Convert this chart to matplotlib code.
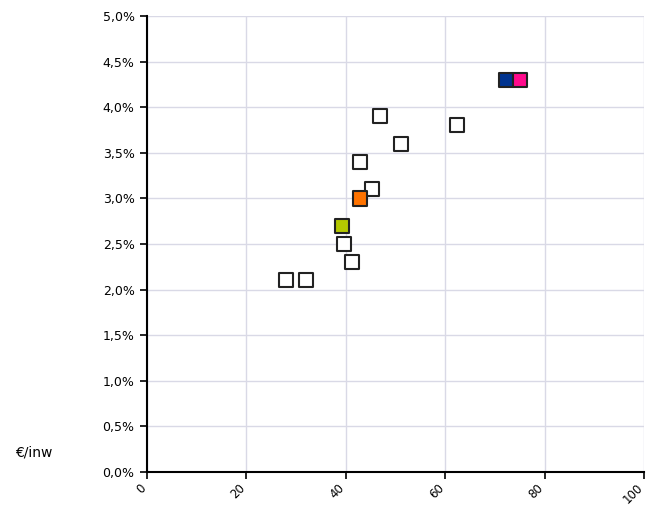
import numpy as np
import matplotlib.pyplot as plt
import matplotlib.transforms as mtransforms
from matplotlib.ticker import FuncFormatter

# other municipalities (white squares)
x_other = [46.8, 62.4, 51.2, 42.8, 45.2, 39.6, 41.2, 28.0, 32.0]
y_other = [3.9, 3.8, 3.6, 3.4, 3.1, 2.5, 2.3, 2.1, 2.1]

# highlighted points
x_hl = [42.8, 39.2, 72.2, 75.0]
y_hl = [3.0, 2.7, 4.3, 4.3]
c_hl = ['#ff7300', '#b4c800', '#00338f', '#ff0a8c']

x_ticks = [0, 20, 40, 60, 80, 100]
x_labels = ['0', '20', '40', '60', '80', '100']
y_ticks = np.arange(0, 5.01, 0.5)

fig = plt.figure(figsize=(6.47, 5.15), dpi=100)
ax = fig.add_axes([147/647, 43/515, 497/647, 456/515])

ax.scatter(x_other, y_other, marker='s', s=105, facecolor='white',
           edgecolor='#222222', linewidth=1.5, zorder=3)
ax.scatter(x_hl, y_hl, marker='s', s=105, c=c_hl,
           edgecolor='#222222', linewidth=1.5, zorder=4)

ax.set_xlim(0, 100)
ax.set_ylim(0, 5)
ax.set_xticks(x_ticks)
ax.set_xticklabels([])
# rotated x labels, drawn by hand so "100" can sit a bit left of its tick
trans = ax.get_xaxis_transform() + mtransforms.ScaledTranslation(-3/100, -14/100, fig.dpi_scale_trans)
for xt, lab in zip(x_ticks, x_labels):
    ax.text(xt, 0, lab, transform=trans, rotation=45, rotation_mode='anchor',
            ha='right', va='center', fontsize=8.5, clip_on=False)

ax.set_yticks(y_ticks)
ax.yaxis.set_major_formatter(FuncFormatter(lambda v, p: ('%.1f' % v).replace('.', ',') + '%'))
ax.tick_params(axis='y', labelsize=9, pad=4)
ax.tick_params(direction='out', length=5, width=1.2, color='black')

ax.grid(True, color='#d9d9e6', linewidth=1)
ax.set_axisbelow(True)
for s in ['top', 'right']:
    ax.spines[s].set_visible(False)
for s in ['left', 'bottom']:
    ax.spines[s].set_linewidth(1.5)

fig.text(15/647, 1 - 452/515, '€/inw', fontsize=10, va='center', ha='left')

plt.savefig('out.png', dpi=100)
